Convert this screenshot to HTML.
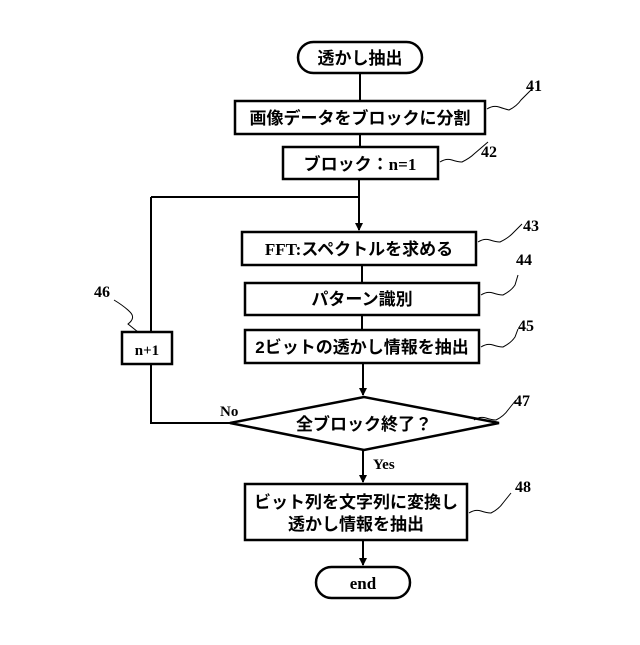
<!DOCTYPE html>
<html><head><meta charset="utf-8"><style>
html,body{margin:0;padding:0;background:#fff;}
svg text{font-family:"Liberation Serif","Noto Sans CJK JP",serif;font-weight:bold;fill:#000;}
.j{font-family:"Liberation Sans","Noto Sans CJK JP",sans-serif;font-size:17px;}
</style></head><body>
<svg width="640" height="640" viewBox="0 0 640 640" xmlns="http://www.w3.org/2000/svg">
<defs><marker id="a" markerWidth="8" markerHeight="8" refX="7" refY="4" orient="auto" markerUnits="userSpaceOnUse"><path d="M0,0 L8,4 L0,8z" fill="#000"/></marker></defs>
<g fill="none" stroke="#000" stroke-width="2.5">
<rect x="298" y="42" width="124" height="31" rx="15.5"/>
<rect x="235" y="101" width="250" height="33"/>
<rect x="283" y="147" width="155" height="32"/>
<rect x="242" y="232" width="234" height="33"/>
<rect x="245" y="283" width="234" height="32"/>
<rect x="245" y="330" width="234" height="33"/>
<rect x="122" y="332" width="50" height="32"/>
<polygon points="230,423 364,397 499,423 364,450"/>
<rect x="245" y="484" width="222" height="56"/>
<rect x="316" y="567" width="94" height="31" rx="15.5"/>
</g>
<g fill="none" stroke="#000" stroke-width="2">
<line x1="360" y1="73" x2="360" y2="101"/>
<line x1="360" y1="134" x2="360" y2="147"/>
<line x1="359" y1="179" x2="359" y2="230" marker-end="url(#a)"/>
<polyline points="151,197 359,197"/>
<line x1="362" y1="265" x2="362" y2="283"/>
<line x1="362" y1="315" x2="362" y2="330"/>
<line x1="363" y1="363" x2="363" y2="395" marker-end="url(#a)"/>
<line x1="363" y1="450" x2="363" y2="482" marker-end="url(#a)"/>
<line x1="363" y1="540" x2="363" y2="565" marker-end="url(#a)"/>
<polyline points="230,423 151,423 151,364"/>
<line x1="151" y1="332" x2="151" y2="197"/>
</g>
<g fill="none" stroke="#000" stroke-width="1">
<path d="M487,109 q6,-4 12,-2 t10,3 q8,-4 12,-10 l10,-10"/>
<path d="M440,162 q6,-4 12,-2 t10,2 q8,-4 12,-8 l14,-12"/>
<path d="M478,242 q6,-4 12,-2 t10,2 q8,-4 12,-8 l10,-10"/>
<path d="M481,295 q6,-4 12,-2 t10,2 q8,-4 12,-10 l3,-10"/>
<path d="M481,347 q6,-4 12,-2 t10,2 q8,-4 12,-10 l3,-8"/>
<path d="M474,420 q6,-4 12,-2 t10,2 q8,-4 12,-10 l8,-10"/>
<path d="M469,513 q6,-4 12,-2 t10,2 q8,-4 12,-10 l8,-10"/>
<path d="M114,300 q10,6 16,12 t-2,12 l10,8"/>
</g>
<text class="j" x="360" y="64" text-anchor="middle">透かし抽出</text>
<text class="j" x="360" y="124" text-anchor="middle">画像データをブロックに分割</text>
<text class="j" x="360" y="170" text-anchor="middle" font-size="17">ブロック：<tspan font-family="Liberation Serif">n=1</tspan></text>
<text class="j" x="359" y="255" text-anchor="middle"><tspan font-family="Liberation Serif">FFT:</tspan>スペクトルを求める</text>
<text class="j" x="362" y="305" text-anchor="middle">パターン識別</text>
<text class="j" x="362" y="353" text-anchor="middle">2ビットの透かし情報を抽出</text>
<text class="j" x="364" y="430" text-anchor="middle">全ブロック終了？</text>
<text class="j" x="356" y="508" text-anchor="middle">ビット列を文字列に変換し</text>
<text class="j" x="356" y="530" text-anchor="middle">透かし情報を抽出</text>
<text x="363" y="589" text-anchor="middle" font-size="17">end</text>
<text x="147" y="355" text-anchor="middle" font-size="15">n+1</text>
<text x="220" y="416" font-size="15">No</text>
<text x="373" y="469" font-size="15">Yes</text>
<g font-size="16">
<text x="526" y="91">41</text>
<text x="481" y="157">42</text>
<text x="523" y="231">43</text>
<text x="516" y="265">44</text>
<text x="518" y="331">45</text>
<text x="94" y="297">46</text>
<text x="514" y="406">47</text>
<text x="515" y="492">48</text>
</g>
</svg>
</body></html>
